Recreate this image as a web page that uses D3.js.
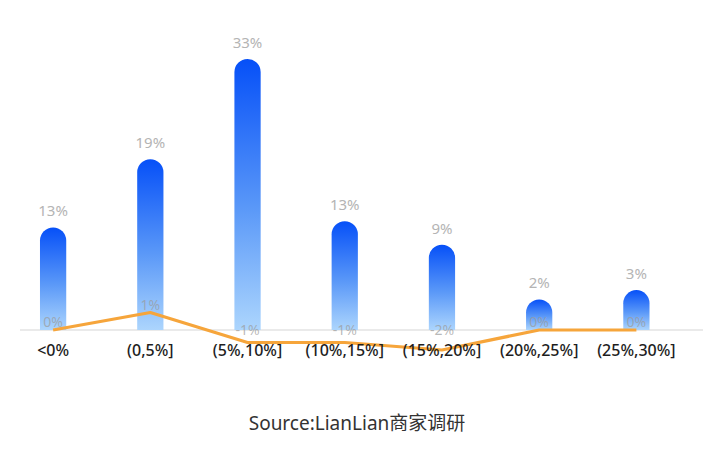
<!DOCTYPE html>
<html>
<head>
<meta charset="utf-8">
<script src="https://cdn.jsdelivr.net/npm/d3@7"></script>
<style>
  html, body { margin: 0; padding: 0; background: #fff; }
  svg { display: block; }
</style>
</head>
<body>
<svg id="chart" width="715" height="455"></svg>
<script>
const categories = ["<0%", "(0,5%]", "(5%,10%]", "(10%,15%]", "(15%,20%]", "(20%,25%]", "(25%,30%]"];
const barValues = [13, 19, 33, 13, 9, 2, 3];
const barHeightValues = [11.5, 20.2, 33, 12.3, 9.3, 2.3, 3.5];
const lineValues = [0, 1.4, -1.0, -1.0, -1.6, 0, 0];
const sourceText = "Source:LianLian商家调研";

const svg = d3.select("#chart");
const baseY = 330;
const font = "'Noto Sans', 'Open Sans', sans-serif";

const x = d3.scaleBand().domain(categories).range([4.5, 685]).paddingInner(0.73).paddingOuter(0.365);
const bw = x.bandwidth();
const yBar = d3.scaleLinear().domain([-1.6, 33]).range([baseY, 59]);
const yLine = d3.scaleLinear().domain([-2, 2]).range([baseY + 25, baseY - 25]);

const defs = svg.append("defs");
const grad = defs.append("linearGradient").attr("id", "barGrad")
  .attr("x1", 0).attr("y1", 0).attr("x2", 0).attr("y2", 1);
grad.append("stop").attr("offset", "0%").attr("stop-color", "#0650f8");
grad.append("stop").attr("offset", "55%").attr("stop-color", "#5a98f8");
grad.append("stop").attr("offset", "100%").attr("stop-color", "#acd5fd");

// axis line
svg.append("line").attr("x1", 20).attr("x2", 703).attr("y1", baseY).attr("y2", baseY)
  .attr("stroke", "#d6d6d6").attr("stroke-width", 1.2);

const r = bw / 2;
function barPath(i) {
  const x0 = x(categories[i]);
  const top = yBar(barHeightValues[i]);
  return `M${x0},${baseY} L${x0},${top + r} A${r},${r} 0 0 1 ${x0 + bw},${top + r} L${x0 + bw},${baseY} Z`;
}
svg.append("g").selectAll("path").data(barValues).join("path")
  .attr("d", (d, i) => barPath(i))
  .attr("fill", "url(#barGrad)");

// bar labels
svg.append("g").selectAll("text").data(barValues).join("text")
  .attr("x", (d, i) => x(categories[i]) + bw / 2)
  .attr("y", (d, i) => yBar(barHeightValues[i]) - 11)
  .attr("text-anchor", "middle")
  .attr("font-family", font)
  .attr("font-size", 15)
  .attr("fill", "#b4b4b4")
  .text(d => d + "%");

// line
const line = d3.line()
  .x((d, i) => x(categories[i]) + bw / 2)
  .y(d => yLine(d));
svg.append("path").datum(lineValues)
  .attr("d", line)
  .attr("fill", "none")
  .attr("stroke", "#f6a53b")
  .attr("stroke-width", 3.2)
  .attr("stroke-linejoin", "round");

// line labels
svg.append("g").selectAll("text").data(lineValues).join("text")
  .attr("x", (d, i) => x(categories[i]) + bw / 2)
  .attr("y", d => Math.min(yLine(d) - 3, baseY + 5))
  .attr("text-anchor", "middle")
  .attr("font-family", font)
  .attr("font-size", 14)
  .attr("fill", "#9a9a9a")
  .attr("fill-opacity", 0.7)
  .text(d => d3.format(".0f")(d).replace("−", "-") + "%");

// category labels
svg.append("g").selectAll("text").data(categories).join("text")
  .attr("x", d => x(d) + bw / 2)
  .attr("y", 356)
  .attr("text-anchor", "middle")
  .attr("font-family", font)
  .attr("font-weight", 500)
  .attr("font-size", 16)
  .attr("fill", "#1e1e1e")
  .text(d => d);

// source
svg.append("text")
  .attr("x", 357).attr("y", 430)
  .attr("text-anchor", "middle")
  .attr("font-family", "'Noto Sans', 'Noto Sans CJK SC', sans-serif")
  .attr("font-size", 19)
  .attr("fill", "#333")
  .text(sourceText);
</script>
</body>
</html>
